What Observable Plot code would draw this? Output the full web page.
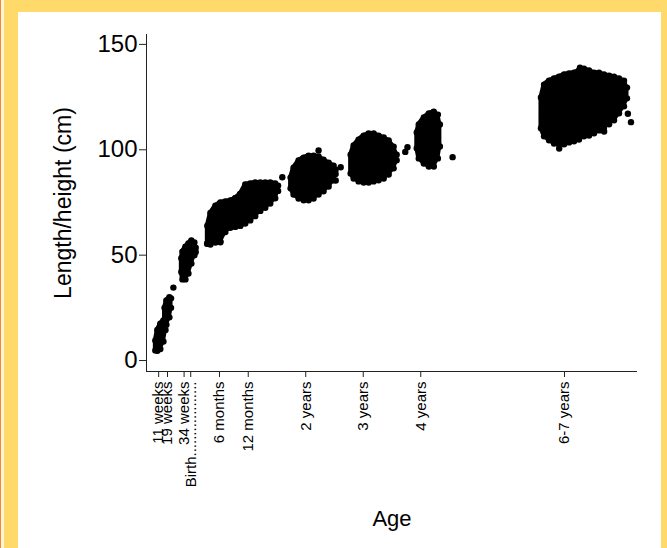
<!DOCTYPE html>
<html>
<head>
<meta charset="utf-8">
<script src="https://cdn.jsdelivr.net/npm/d3@7"></script>
<script src="https://cdn.jsdelivr.net/npm/@observablehq/plot@0.6"></script>
<style>
  html, body { margin: 0; padding: 0; }
  body { width: 667px; height: 548px; overflow: hidden; position: relative; background: #FFDA6A; font-family: "Liberation Sans", Arial, sans-serif; }
  #edge { position: absolute; left: 0; top: 0; width: 1px; height: 548px; background: #EE8A34; }
  #edge2 { position: absolute; left: 1px; top: 0; width: 3px; height: 548px; background: #FFF4D8; }
  #panel { position: absolute; left: 18px; top: 12px; width: 643px; height: 536px; background: #fff; }
  #panel svg { display: block; }
</style>
</head>
<body>
<div id="edge"></div>
<div id="edge2"></div>
<div id="panel"></div>
<script>
// Age axis in gestational weeks; tick positions and labels
const tickWeeks = [11, 19, 34, 40, 66, 92, 144, 196, 248, 378];
const tickLabels = ["11 weeks", "19 weeks", "34 weeks", "Birth..................", "6 months", "12 months", "2 years", "3 years", "4 years", "6-7 years"];
const yTicks = [0, 50, 100, 150];

// Cluster envelopes: [age (weeks), lowest cm, highest cm]
const c11w = [[8,4.8,9.5],[9.8,4.6,14.5],[12.5,5.5,17.5],[15.3,9,19],[17.2,14.5,18]];
const c19w = [[16.3,17.5,25],[18,17,28.5],[20.7,20.5,30],[22.2,25,29.5]];
const cBirth = [[31.5,42,48.5],[32.5,38.5,51.7],[35.2,38.5,54],[37.9,41.3,55.5],[40.6,46,57],[43.3,50,56],[44.5,51.5,53.5]];
const c6m = [[55,55.5,64],[57.8,55,70],[62.3,56,73.5],[66.8,56.5,75],[71.3,61,75.5],[75.8,63,76],[80.3,63.5,77],[84.8,64,79]];
const c12m = [[80.3,63.5,77],[84.8,64,79],[89.3,65,83.5],[93.8,66.5,84],[98.3,68.5,84.5],[102.9,71,84.5],[107.4,72.5,84.5],[111.9,74.5,84.5],[116.4,77,84],[119,80.5,83]];
const c2y = [[130.3,81.7,86.8],[133,78.8,91.5],[137.5,76.9,94.9],[142.1,76,96.3],[146.6,76,97.2],[151.1,76.9,97.2],[155.6,78.8,96.8],[160.1,80.3,95.3],[164.7,82.6,93.9],[169.2,85.5,92.5],[171,88.5,90.5]];
const c3y = [[184.6,88.8,97.7],[187.3,86.4,102],[191.8,85,104.8],[196.4,84.5,106.7],[200.9,84.5,107.7],[205.4,85,107.7],[209.9,85.5,106.7],[214.5,86.4,105.8],[219,88.3,104.4],[223.5,91.2,101.5],[226.2,95,97.7]];
const c4y = [[244.4,100.7,108.2],[246.2,95.9,112],[250.8,93.5,115.3],[255.3,92.1,117.2],[259.8,92.1,118.1],[263.5,95.9,116.7],[265.3,101.6,112]];
const c67y = [[356.7,110.2,124.8],[359.5,106.4,130.9],[364.0,104.5,132.8],[368.5,103,133.8],[373.0,102.6,134.7],[377.6,102.6,135.7],[382.1,103.5,136.2],[386.6,104,136.6],[391.1,104.9,137.6],[395.6,106.4,138.5],[400.2,106.8,137.6],[404.7,107.8,136.6],[409.2,109.2,136.6],[413.7,110.6,135.7],[418.3,112.1,135.2],[422.8,114,134.7],[427.3,117.3,133.8],[431.8,120.6,132.8],[434.5,124.4,129.5]];

// Isolated points: [age (weeks), cm]
const outliers = [[24.3,34.6],[54.8,55.4],[66.8,56.1],[122.8,87],[155.6,99.7],[171.1,85.4],[175.6,91.7],[236,101.2],[234,99],[276.8,96.5],[438.1,113.1],[435.3,117.1],[373.2,100.6],[413.8,108.7],[392,139],[429,131.5]];

const clusterNames = ["11 weeks","19 weeks","Birth","6 months","12 months","2 years","3 years","4 years","6-7 years"];
const clusters = [c11w, c19w, cBirth, c6m, c12m, c2y, c3y, c4y, c67y];
const rows = clusters.flatMap((c, k) => c.map(([w, lo, hi]) => ({cluster: clusterNames[k], w, lo, hi})));
const pts = outliers.map(([w, v]) => ({w, v}));

const xDomain = [0, 444];
const yDomain = [-5.2, 154.7];
const ink = "#000";

const chart = Plot.plot({
  width: 643,
  height: 536,
  marginLeft: 128,
  marginRight: 24,
  marginTop: 22,
  marginBottom: 177,
  style: {fontFamily: "'Liberation Sans', Arial, sans-serif", color: "#000", background: "#fff", overflow: "visible"},
  x: {domain: xDomain},
  y: {domain: yDomain},
  marks: [
    Plot.areaY(rows, {x: "w", y1: "lo", y2: "hi", z: "cluster", fill: ink, stroke: ink, strokeWidth: 4, strokeLinejoin: "round"}),
    Plot.dot(rows, {x: "w", y: "lo", r: 3.2, fill: ink}),
    Plot.dot(rows, {x: "w", y: "hi", r: 3.2, fill: ink}),
    Plot.dot(pts, {x: "w", y: "v", r: 3.2, fill: ink}),
    Plot.ruleX([xDomain[0]], {stroke: "#222", strokeWidth: 1}),
    Plot.ruleY([yDomain[0]], {stroke: "#222", strokeWidth: 1}),
    Plot.axisY({ticks: yTicks, tickSize: 7, tickPadding: 2, fontSize: 24, label: null, stroke: "#222"}),
    Plot.axisX({ticks: tickWeeks, tickFormat: d => tickLabels[tickWeeks.indexOf(d)], tickRotate: -90, tickSize: 6, tickPadding: 4, fontSize: 15, label: null, stroke: "#222"}),
    Plot.text(["Length/height (cm)"], {frameAnchor: "left", textAnchor: "middle", dx: -83, rotate: -90, fontSize: 23, fill: "#000"}),
    Plot.text(["Age"], {frameAnchor: "bottom", textAnchor: "middle", dy: 154, fontSize: 22, fill: "#000"})
  ]
});
document.getElementById("panel").appendChild(chart);
</script>
</body>
</html>
